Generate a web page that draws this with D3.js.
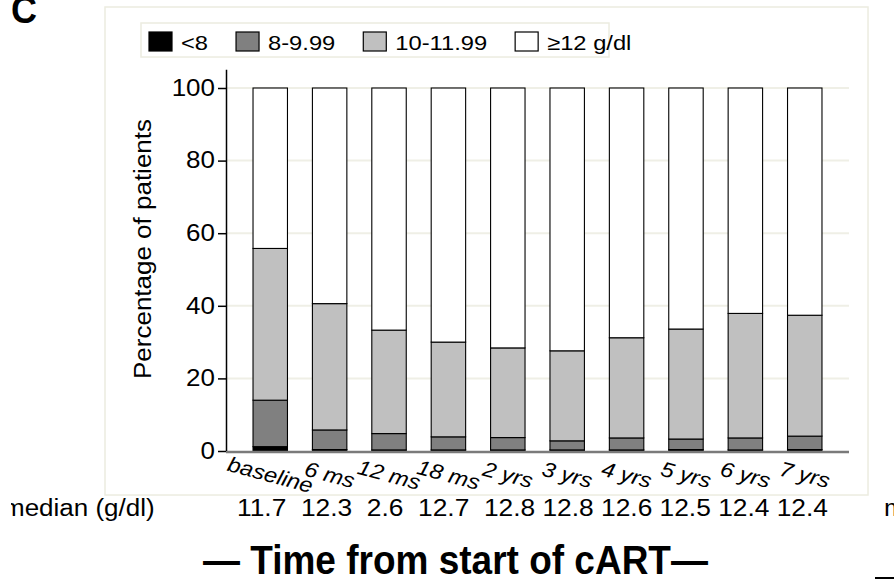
<!DOCTYPE html>
<html><head><meta charset="utf-8">
<script src="https://cdn.jsdelivr.net/npm/d3@7"></script>
<style>body{margin:0;background:#fff}svg{display:block;font-family:"Liberation Sans",Arial,sans-serif}</style>
</head><body><svg id="c" width="894" height="580"></svg>
<script>
// ---- data ----
const categories = ["baseline","6 ms","12 ms","18 ms","2 yrs","3 yrs","4 yrs","5 yrs","6 yrs","7 yrs"];
const lt8   = [1.2, 0.4, 0.3, 0.3, 0.3, 0.3, 0.3, 0.4, 0.3, 0.4];
const g8to10  = [12.8, 5.4, 4.5, 3.6, 3.4, 2.5, 3.3, 2.9, 3.3, 3.7];
const g10to12 = [41.8, 34.8, 28.5, 26.1, 24.7, 24.8, 27.6, 30.3, 34.3, 33.3];
const ge12  = [44.2, 59.4, 66.7, 70.0, 71.6, 72.4, 68.8, 66.4, 62.1, 62.6];
const seriesNames = ["<8","8-9.99","10-11.99","≥12 g/dl"];
const seriesColors = ["#000000","#808080","#c0c0c0","#ffffff"];
const yTicks = [0,20,40,60,80,100];
const medians = ["11.7","12.3","2.6","12.7","12.8","12.8","12.6","12.5","12.4","12.4"];
const medianLabel = "median (g/dl)";
const xTitle = "— Time from start of cART—";
const yTitle = "Percentage of patients";
const panelLetter = "C";

// ---- layout ----
const SX = 1.13;
const svg = d3.select("#c");
const x = d3.scaleBand().domain(categories).range([226, 849]).paddingInner(0.42).paddingOuter(0.455);
const y = d3.scaleLinear().domain([0,100]).range([451, 88]);

svg.append("defs").append("clipPath").attr("id","leftcut")
  .append("rect").attr("x",11).attr("y",480).attr("width",300).attr("height",60);

// panel border
svg.append("rect").attr("x",105).attr("y",7).attr("width",763).attr("height",488)
  .attr("fill","#fff").attr("stroke","#ecece0").attr("stroke-width",1.5);

// gridlines
svg.append("g").selectAll("line").data(yTicks.filter(t=>t>0)).join("line")
  .attr("x1",227).attr("x2",849).attr("y1",d=>y(d)).attr("y2",d=>y(d))
  .attr("stroke","#efefe6").attr("stroke-width",2);

// stacked bars
const table = categories.map((c,i)=>({cat:c, s0:lt8[i], s1:g8to10[i], s2:g10to12[i], s3:ge12[i]}));
const stack = d3.stack().keys(["s0","s1","s2","s3"])(table);
svg.append("g").selectAll("g").data(stack).join("g")
  .attr("fill",(d,i)=>seriesColors[i])
  .selectAll("rect").data(d=>d).join("rect")
  .attr("x",d=>x(d.data.cat)).attr("width",x.bandwidth())
  .attr("y",d=>y(d[1])).attr("height",d=>y(d[0])-y(d[1]))
  .attr("stroke","#000").attr("stroke-width",1.1);

// x axis line
svg.append("line").attr("x1",226).attr("x2",849).attr("y1",y(0)+1).attr("y2",y(0)+1)
  .attr("stroke","#7a7a7a").attr("stroke-width",2.5);

// y axis
const ya = svg.append("g").attr("transform","translate(226,0)")
  .call(d3.axisLeft(y).tickValues(yTicks).tickSize(8).tickPadding(3));
ya.select(".domain").remove();
ya.selectAll(".tick line").attr("stroke","#000").attr("stroke-width",1.5);
ya.selectAll(".tick text").attr("font-size",23).attr("fill","#000")
  .attr("font-family","'Liberation Sans',Arial,sans-serif")
  .attr("transform","translate(-11,0) scale("+SX+",1) translate(11,0)");
svg.append("line").attr("x1",226.5).attr("x2",226.5).attr("y1",y(0)).attr("y2",y(105))
  .attr("stroke","#000").attr("stroke-width",1.5);

// y title
svg.append("text").attr("transform","translate(151,249) rotate(-90) scale("+SX+",1)")
  .attr("text-anchor","middle").attr("font-size",23).attr("fill","#000").text(yTitle);

// x labels
svg.append("g").selectAll("text").data(categories).join("text")
  .attr("transform",d=>"translate("+(x(d)+x.bandwidth()/2)+",475) rotate(15) scale(1.12,1)")
  .attr("y",7).attr("text-anchor","middle").attr("font-size",21).attr("font-style","italic")
  .attr("fill","#000").text(d=>d);

// legend
svg.append("rect").attr("x",141).attr("y",23).attr("width",468).attr("height",34)
  .attr("fill","#fff").attr("stroke","#ecece0").attr("stroke-width",1.5);
let lx = 149;
seriesNames.forEach((n,i)=>{
  svg.append("rect").attr("x",lx).attr("y",32).attr("width",23).attr("height",19)
    .attr("fill",seriesColors[i]).attr("stroke","#000").attr("stroke-width",1.2);
  const tx = lx+32;
  const t = svg.append("text").attr("transform","translate("+tx+",50) scale("+SX+",1)")
    .attr("font-size",21).attr("fill","#000").text(n);
  lx = tx + t.node().getComputedTextLength()*SX + 28;
});

// median row
svg.append("g").attr("clip-path","url(#leftcut)").append("text")
  .attr("transform","translate(3,516) scale("+SX+",1)")
  .attr("font-size",23).attr("fill","#000").text(medianLabel);
const medStr = medians.map((v,i)=> i<4 ? v+"  " : v+" ").join("").trim();
svg.append("text").attr("transform","translate(237,516) scale(1.145,1)")
  .attr("font-size",23).attr("fill","#000").style("white-space","pre").text(medStr);
svg.append("text").attr("transform","translate(884,516) scale("+SX+",1)")
  .attr("font-size",23).attr("fill","#000").text(medianLabel);

// x title
svg.append("text").attr("transform","translate(203,574) scale(1,1.08)").attr("font-size",37)
  .attr("font-weight","bold").attr("fill","#000").text(xTitle);

// panel letter
svg.append("text").attr("transform","translate(11,23) scale(1,1.08)").attr("font-size",36)
  .attr("font-weight","bold").attr("fill","#000").text(panelLetter);

// fragment of neighbouring panel
svg.append("line").attr("x1",875).attr("x2",894).attr("y1",578).attr("y2",578)
  .attr("stroke","#000").attr("stroke-width",2);
</script></body></html>
